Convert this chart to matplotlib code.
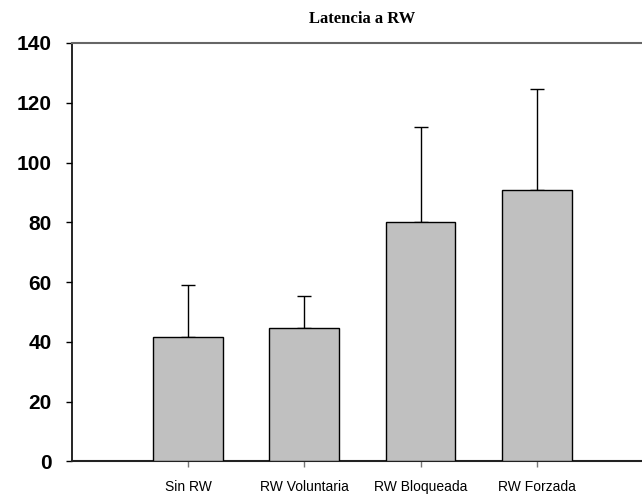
import numpy as np
import matplotlib
matplotlib.use('Agg')
import matplotlib.pyplot as plt

groups = ['Sin RW', 'RW Voluntaria', 'RW Bloqueada', 'RW Forzada']
latency = [41.8, 44.8, 80.1, 90.8]
err_up = [17.4, 10.5, 31.9, 33.7]
yticks = [0, 20, 40, 60, 80, 100, 120, 140]

fig = plt.figure(figsize=(6.42, 4.95), dpi=100)
ax = fig.add_axes([0.1117, 0.0677, 0.9055, 0.8455])

x = np.arange(1, len(groups) + 1)
ax.bar(x, latency, width=0.6, color='#c0c0c0', edgecolor='black', linewidth=1.0, zorder=3)
ax.errorbar(x, latency, yerr=[np.zeros(len(err_up)), err_up], fmt='none',
            ecolor='black', elinewidth=1.0, capsize=4.7, capthick=1.0, zorder=2)

ax.set_xlim(0, 5)
ax.set_ylim(0, 140)
ax.set_xticks(x)
ax.set_xticklabels(groups, fontsize=10, family='Liberation Sans')
ax.set_yticks(yticks)
ax.set_yticklabels([str(t) for t in yticks], fontsize=15, fontweight='bold', family='Liberation Sans')

ax.tick_params(axis='y', direction='out', length=4.3, width=1.0, pad=10, colors='black')
ax.tick_params(axis='x', direction='out', length=4, width=1.0, pad=9, color='#777777', labelcolor='black')

ax.spines['right'].set_visible(False)
ax.spines['left'].set_linewidth(1.2)
ax.spines['top'].set_color('#666666')
ax.spines['top'].set_linewidth(1.5)
ax.spines['bottom'].set_color('#222222')
ax.spines['bottom'].set_linewidth(1.5)

fig.text(362 / 642, 1 - 23 / 495, 'Latencia a RW', ha='center', va='baseline',
         fontsize=12, fontweight='bold', family='Liberation Serif')

fig.savefig('out.png', dpi=100)
